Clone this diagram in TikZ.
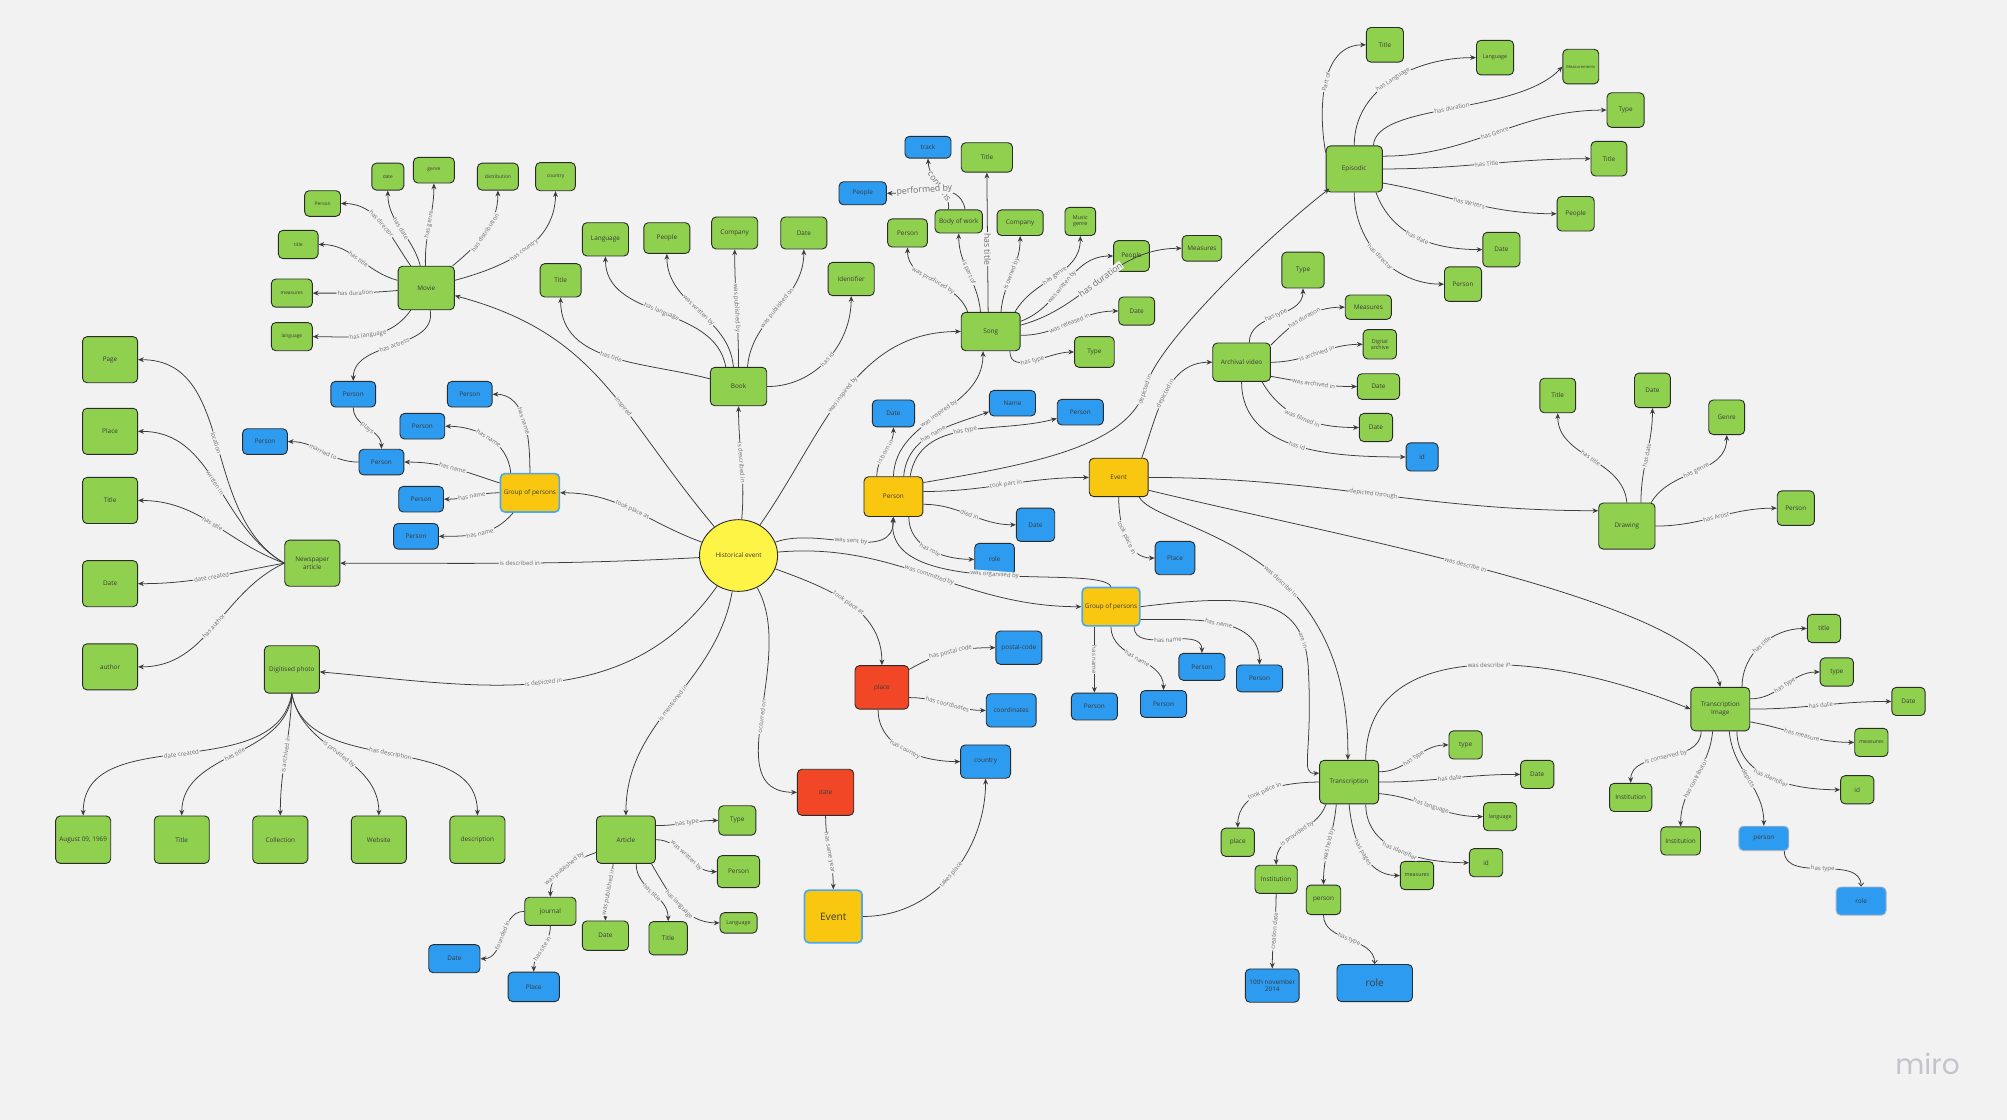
\documentclass[tikz,border=0pt]{standalone}
\usepackage{fontspec}
\setmainfont{Open Sans}
\newfontfamily\logofont{Poppins}
\usetikzlibrary{arrows.meta,shapes.geometric}
\definecolor{bg}{HTML}{F2F2F2}
\definecolor{mgreen}{HTML}{8FD14F}
\definecolor{mblue}{HTML}{2D9BF0}
\definecolor{myellow}{HTML}{FAC710}
\definecolor{mred}{HTML}{F24726}
\definecolor{hecol}{HTML}{FEF445}
\definecolor{bord}{HTML}{2B2B2B}
\definecolor{edgec}{HTML}{3C3C3C}
\definecolor{lblc}{HTML}{6E6E6E}
\definecolor{txtc}{HTML}{3A3A3A}
\definecolor{lightbd}{HTML}{4FA8E8}
\definecolor{paleb}{HTML}{A9B4C8}
\definecolor{logoc}{HTML}{C3C3CC}
\newcommand\fsN{\fontsize{5}{6}\selectfont}
\newcommand\fsS{\fontsize{4.2}{5}\selectfont}
\newcommand\fsT{\fontsize{3.8}{4.5}\selectfont}
\newcommand\fsX{\fontsize{3.2}{4}\selectfont}
\newcommand\fsL{\fontsize{4.7}{5.5}\selectfont}
\newcommand\fsB{\fontsize{6.8}{8}\selectfont}
\newcommand\fsE{\fontsize{8}{9}\selectfont}
\newcommand\fsR{\fontsize{7.8}{9}\selectfont}
\newcommand\mkN[7]{\node[#1,minimum width=#5pt,minimum height=#6pt] (#2) at (#3,-#4) {#7};}
\newcommand\mkE[5]{\draw[ed] (#1) to[out=#3,in=#4] node[lbl]{#5} (#2);}
\begin{document}
\begin{tikzpicture}[x=1pt,y=1pt,
 base/.style={draw=bord,line width=0.7pt,rounded corners=3.5pt,inner sep=0.5pt,align=center,text=txtc,font=\fsN},
 gbox/.style={base,fill=mgreen},
 bbox/.style={base,fill=mblue},
 ybox/.style={base,fill=myellow},
 rbox/.style={base,fill=mred},
 gpbox/.style={base,fill=myellow,draw=lightbd,line width=1.3pt},
 palebox/.style={base,fill=mblue,draw=paleb},
 ed/.style={draw=edgec,line width=0.6pt,-{Stealth[length=4.5pt,width=3.8pt]}},
 edthin/.style={draw=edgec,line width=0.6pt,-{Straight Barb[length=2.5pt,width=4pt]}},
 lblbase/.style={font=\fsL,text=lblc,fill=bg,inner sep=0.6pt},
 lbl/.style={lblbase,sloped},
 biglbl/.style={lbl,font=\fsB},
]
\fill[bg] (0,0) rectangle (1568,-875);
\useasboundingbox (0,0) rectangle (1568,-875);

% ---------- nodes ----------
\node[ellipse,draw=bord,line width=0.7pt,fill=hecol,minimum width=61pt,minimum height=56pt,inner sep=0pt,text=txtc,font=\fsN] (he) at (577,-434) {Historical event};

% Movie cluster
\mkN{gbox}{movie}{333}{225}{44}{34}{Movie}
\mkN{gbox,font=\fsT}{mdate}{303}{138}{25}{21}{date}
\mkN{gbox,font=\fsT}{mgenre}{339}{133}{32}{20}{genre}
\mkN{gbox,font=\fsT}{mdist}{389}{138}{32}{21}{distribution}
\mkN{gbox,font=\fsT}{mcountry}{434}{138}{31}{22}{country}
\mkN{gbox,font=\fsT}{mdir}{252}{159}{28}{20}{Person}
\mkN{gbox,font=\fsT}{mtitle}{233}{191}{31}{22}{title}
\mkN{gbox,font=\fsT}{mmeas}{228}{229}{32}{22}{measures}
\mkN{gbox,font=\fsT}{mlang}{228}{263}{32}{22}{language}
\mkN{bbox}{pact}{276}{308}{35}{20}{Person}
\mkN{bbox}{gp1}{367}{308}{35}{20}{Person}
\mkN{bbox}{gp2}{330}{333}{35}{20}{Person}
\mkN{bbox}{pmar}{207}{345}{35}{20}{Person}
\mkN{bbox}{gp3}{298}{361}{35}{20}{Person}
\mkN{bbox}{gp4}{329}{390}{35}{20}{Person}
\mkN{bbox}{gp5}{325}{419}{35}{20}{Person}
\mkN{gpbox}{gpl}{414}{385}{46}{30}{Group of persons}

% Newspaper
\mkN{gbox}{np}{244}{440}{43}{36}{Newspaper\\article}
\mkN{gbox}{npage}{86}{281}{43}{36}{Page}
\mkN{gbox}{nplace}{86}{337}{43}{36}{Place}
\mkN{gbox}{ntitle}{86}{391}{43}{36}{Title}
\mkN{gbox}{ndate}{86}{456}{43}{36}{Date}
\mkN{gbox}{nauthor}{86}{521}{43}{36}{author}

% Photo
\mkN{gbox}{ph}{228}{523}{43}{37}{Digitised photo}
\mkN{gbox}{paug}{65}{656}{43}{37}{August 09, 1969}
\mkN{gbox}{ptitle}{142}{656}{43}{37}{Title}
\mkN{gbox}{pcoll}{219}{656}{43}{37}{Collection}
\mkN{gbox}{pweb}{296}{656}{43}{37}{Website}
\mkN{gbox}{pdesc}{373}{656}{43}{37}{description}

% Book
\mkN{gbox}{bk}{577}{302}{44}{30}{Book}
\mkN{gbox}{btitle}{438}{219}{32}{26}{Title}
\mkN{gbox}{blang}{473}{187}{36}{26}{Language}
\mkN{gbox}{bpeople}{521}{186}{36}{24}{People}
\mkN{gbox}{bcomp}{574}{182}{36}{25}{Company}
\mkN{gbox}{bdate}{628}{182}{36}{25}{Date}
\mkN{gbox}{bid}{665}{218}{36}{26}{Identifier}

% Song
\mkN{gbox}{sg}{774}{259}{46}{30}{Song}
\mkN{bbox}{strack}{725}{115}{36}{17}{track}
\mkN{gbox}{stitle}{771}{123}{40}{23}{Title}
\mkN{bbox}{speople}{674}{151}{37}{18}{People}
\mkN{gbox}{sbow}{749}{173}{37}{18}{Body of work}
\mkN{gbox}{sperson}{709}{182}{31}{22}{Person}
\mkN{gbox}{scomp}{797}{174}{36}{20}{Company}
\mkN{gbox,font=\fsS}{sgenre}{844}{173}{24}{22}{Music\\genre}
\mkN{gbox}{swriter}{884}{200}{28}{24}{People}
\mkN{gbox}{smeas}{939}{194}{31}{20}{Measures}
\mkN{gbox}{sdate}{888}{243}{28}{22}{Date}
\mkN{gbox}{stype}{855}{275}{31}{24}{Type}

% Person
\mkN{ybox}{pe}{698}{388}{46}{31}{Person}
\mkN{bbox}{pborn}{698}{323}{33}{21}{Date}
\mkN{bbox}{pname}{791}{315}{36}{20}{Name}
\mkN{bbox}{ptype}{844}{322}{36}{20}{Person}
\mkN{bbox}{pdied}{809}{410}{30}{26}{Date}
\mkN{bbox}{prole}{777}{437}{31}{25}{role}

% Event
\mkN{ybox}{ev}{874}{373}{46}{30}{Event}
\mkN{bbox}{evplace}{918}{436}{31}{26}{Place}

% Archival video
\mkN{gbox}{av}{970}{283}{45}{30}{Archival video}
\mkN{gbox}{avtype}{1018}{211}{33}{28}{Type}
\mkN{gbox}{avmeas}{1069}{240}{36}{19}{Measures}
\mkN{gbox,font=\fsS}{avarch}{1078}{269}{26}{23}{Digital\\archive}
\mkN{gbox}{avdate1}{1077}{302}{33}{20}{Date}
\mkN{gbox}{avdate2}{1075}{334}{26}{22}{Date}
\mkN{bbox}{avid}{1111}{357}{25}{22}{id}

% Episodic
\mkN{gbox}{ep}{1058}{132}{44}{36}{Episodic}
\mkN{gbox}{eptitle}{1082}{35}{29}{27}{Title}
\mkN{gbox,font=\fsS}{eplang}{1168}{45}{29}{27}{Language}
\mkN{gbox,font=\fsX}{epmeas}{1235}{52}{28}{27}{Measurements}
\mkN{gbox}{eptype}{1270}{86}{29}{27}{Type}
\mkN{gbox}{eptitle2}{1257}{124}{28}{27}{Title}
\mkN{gbox}{eppeople}{1231}{167}{29}{27}{People}
\mkN{gbox}{epdate}{1173}{195}{29}{27}{Date}
\mkN{gbox}{epperson}{1143}{222}{29}{27}{Person}

% Drawing
\mkN{gbox}{dr}{1271}{411}{44}{36}{Drawing}
\mkN{gbox}{drtitle}{1217}{309}{28}{27}{Title}
\mkN{gbox}{drdate}{1291}{305}{28}{27}{Date}
\mkN{gbox}{drgenre}{1349}{326}{28}{27}{Genre}
\mkN{gbox}{drperson}{1403}{397}{29}{27}{Person}

% Group of persons (lower)
\mkN{gpbox}{gpb}{868}{474}{45}{30}{Group of persons}
\mkN{bbox}{gb1}{855}{552}{36}{21}{Person}
\mkN{bbox}{gb2}{909}{550}{36}{21}{Person}
\mkN{bbox}{gb3}{939}{521}{36}{21}{Person}
\mkN{bbox}{gb4}{984}{530}{36}{21}{Person}

% place / date
\mkN{rbox}{pl}{689}{537}{42}{34}{place}
\mkN{bbox}{plpost}{796}{506}{36}{26}{postal-code}
\mkN{bbox}{plcoord}{790}{555}{39}{26}{coordinates}
\mkN{bbox}{plcountry}{770}{595}{39}{26}{country}
\mkN{rbox}{dt}{645}{619}{44}{36}{date}
\mkN{gpbox,font=\fsE}{evb}{651}{716}{45}{41}{Event}

% Transcription
\mkN{gbox}{tr}{1054}{611}{46}{34}{Transcription}
\mkN{gbox}{trtype}{1145}{582}{26}{22}{type}
\mkN{gbox}{trdate}{1201}{605}{26}{22}{Date}
\mkN{gbox,font=\fsS}{trlang}{1172}{638}{26}{22}{language}
\mkN{gbox}{trid}{1161}{674}{26}{22}{id}
\mkN{gbox,font=\fsS}{trmeas}{1107}{684}{26}{22}{measures}
\mkN{gbox}{trperson}{1034}{703}{27}{23}{person}
\mkN{gbox}{trinst}{997}{687}{33}{22}{Institution}
\mkN{gbox}{trplace}{967}{658}{26}{22}{place}
\mkN{bbox}{trcdate}{994}{770}{42}{26}{10th november\\2014}
\mkN{bbox,font=\fsR}{trrole}{1074}{768}{59}{29}{role}

% Transcription image
\mkN{gbox}{ti}{1344}{554}{46}{34}{Transcription\\Image}
\mkN{gbox}{tititle}{1425}{491}{26}{22}{title}
\mkN{gbox}{titype}{1435}{525}{26}{22}{type}
\mkN{gbox}{tidate}{1491}{548}{26}{22}{Date}
\mkN{gbox,font=\fsS}{timeas}{1462}{580}{26}{22}{measures}
\mkN{gbox}{tiid}{1451}{617}{26}{22}{id}
\mkN{gbox}{tiinst1}{1274}{623}{33}{22}{Institution}
\mkN{gbox}{tiinst2}{1313}{657}{31}{22}{Institution}
\mkN{palebox}{tiperson}{1378}{655}{39}{19}{person}
\mkN{palebox}{tirole}{1454}{704}{39}{22}{role}

% Article
\mkN{gbox}{ar}{489}{656}{46}{37}{Article}
\mkN{gbox}{artype}{576}{641}{29}{23}{Type}
\mkN{gbox}{arperson}{577}{681}{33}{25}{Person}
\mkN{gbox,font=\fsS}{arlang}{577}{721}{29}{16}{Language}
\mkN{gbox}{artitle}{522}{733}{30}{26}{Title}
\mkN{gbox}{ardate}{473}{731}{36}{23}{Date}
\mkN{gbox}{arjournal}{430}{712}{40}{22}{journal}
\mkN{bbox}{arjdate}{355}{749}{40}{22}{Date}
\mkN{bbox}{arjplace}{417}{771}{40}{23}{Place}

\node[font=\logofont\fontsize{22}{24}\selectfont,text=logoc] (logo) at (1506,-831) {miro};

% ---------- edges ----------
% Movie
\mkE{movie}{mdir}{125}{0}{has director}
\mkE{movie}{mdate}{105}{270}{has date}
\mkE{movie}{mgenre}{92}{270}{has genre}
\mkE{movie}{mdist}{40}{270}{has distribution}
\mkE{movie}{mcountry}{15}{270}{has country}
\mkE{movie}{mtitle}{165}{0}{has title}
\mkE{movie}{mmeas}{185}{0}{has duration}
\mkE{movie}{mlang}{235}{0}{has language}
\mkE{movie}{pact}{280}{90}{has actress}
% group left
\mkE{gpl}{gp1}{90}{0}{has name}
\draw[ed] ([xshift=-15pt]gpl.north) to[out=95,in=0] node[lbl]{has name} (gp2);
\mkE{gpl}{gp3}{162}{0}{has name}
\mkE{gpl}{gp4}{180}{0}{has name}
\mkE{gpl}{gp5}{230}{0}{has name}
\mkE{pact}{gp3}{270}{90}{plays}
\mkE{gp3}{pmar}{180}{0}{married to}
% historical event
\mkE{he}{gpl}{160}{0}{took place at}
\draw[ed] (he) to[out=130,in=-15,looseness=1.1] node[lbl,pos=0.4]{inspired} (movie);
\mkE{he}{np}{183}{0}{is described in}
\mkE{he}{ph}{235}{-5}{is depicted in}
\mkE{he}{bk}{85}{270}{is described in}
\mkE{he}{sg}{55}{180}{was inspired by}
\mkE{he}{pe}{20}{270}{was sent by}
\mkE{he}{gpb}{5}{180}{was committed by}
\mkE{he}{pl}{-20}{90}{took place at}
\mkE{he}{dt}{-60}{180}{occurred on}
\mkE{he}{ar}{260}{90}{is mentioned in}
% newspaper
\mkE{np.west}{npage}{150}{0}{location}
\mkE{np.west}{nplace}{150}{0}{written in}
\mkE{np.west}{ntitle}{160}{0}{has title}
\mkE{np.west}{ndate}{190}{0}{date created}
\mkE{np.west}{nauthor}{205}{0}{has author}
% photo
\mkE{ph.south}{paug}{260}{90}{date created}
\mkE{ph.south}{ptitle}{265}{90}{has title}
\mkE{ph.south}{pcoll}{268}{90}{is archived in}
\mkE{ph.south}{pweb}{280}{90}{is provided by}
\mkE{ph.south}{pdesc}{280}{90}{has description}
% book
\mkE{bk}{btitle}{165}{270}{has title}
\draw[ed] ([xshift=-10pt]bk.north) to[out=100,in=270] node[lbl]{has language} (blang);
\draw[ed] ([xshift=-4pt]bk.north) to[out=95,in=270] node[lbl]{was written by} (bpeople);
\draw[ed] (bk.north) to[out=90,in=270] node[lbl]{was published by} (bcomp);
\draw[ed] ([xshift=7pt]bk.north) to[out=85,in=270] node[lbl]{was published on} (bdate);
\draw[ed] (bk.east) to[out=0,in=270] node[lbl]{has id} (bid);
% song
\draw[ed] ([xshift=-18pt]sg.north) to[out=110,in=270] node[lbl]{was produced by} (sperson);
\draw[ed] ([xshift=-8pt]sg.north) to[out=95,in=270] node[lbl]{is part of} (sbow);
\draw[ed] ([xshift=-2pt]sg.north) -- node[lblbase,font=\fsB,rotate=-90,pos=0.45]{has title} (stitle.south);
\draw[ed] ([xshift=8pt]sg.north) to[out=85,in=270] node[lbl]{is owned by} (scomp);
\draw[ed] ([xshift=19pt]sg.north) to[out=60,in=270] node[lbl]{has genre} (sgenre);
\draw[ed] ([yshift=8pt]sg.east) to[out=20,in=180] node[lbl,pos=0.45]{was written by} (swriter);
\draw[ed] ([yshift=5pt]sg.east) to[out=15,in=180] node[biglbl,pos=0.5]{has duration} (smeas);
\draw[ed] ([yshift=-3pt]sg.east) to[out=0,in=180] node[lbl]{was released in} (sdate);
\draw[ed] ([xshift=15pt]sg.south) to[out=270,in=180] node[lbl]{has type} (stype);
\draw[ed] ([xshift=-8pt]sbow.north) .. controls (743,-150) and (726,-142) .. node[biglbl,pos=0.5]{contains} (strack.south);
\draw[ed] ([xshift=5pt]sbow.north) to[out=100,in=0] node[biglbl,pos=0.62]{performed by} (speople);
% person
\draw[ed] ([xshift=-13pt]pe.north) to[out=90,in=270] node[lbl]{is born in} (pborn);
\draw[ed] (pe.north) to[out=88,in=270] node[lbl]{was inspired by} ([xshift=-6pt]sg.south);
\draw[ed] ([xshift=8pt]pe.north) to[out=85,in=200] node[lbl]{has name} (pname);
\draw[ed] ([xshift=13pt]pe.north) to[out=80,in=195] node[lbl]{has type} (ptype);
\draw[ed] ([yshift=11pt]pe.east) .. controls (810,-362) and (885,-348) .. node[lbl,pos=0.97]{depicted in} (896,-300) .. controls (905,-268) and (990,-185) .. ([xshift=3pt,yshift=3pt]ep.south west);
\draw[ed] ([yshift=4pt]pe.east) to[out=0,in=180] node[lbl]{took part in} (ev);
\draw[ed] ([yshift=-6pt]pe.east) to[out=0,in=180] node[lbl]{died in} (pdied);
\draw[ed] ([xshift=12pt]pe.south) to[out=270,in=180] node[lbl]{has role} (prole);
\draw[ed] (gpb.north) .. controls (860,-440) and (690,-470) .. node[lbl,pos=0.5]{was organised by} (pe.south);
% event
\draw[ed] ([xshift=18pt]ev.north) to[out=70,in=180] node[lbl]{depicted in} (av);
\draw[ed] (ev.south) to[out=270,in=180] node[lbl]{took place in} (evplace);
\draw[ed] (ev.east) to[out=0,in=180] node[lbl]{depicted through} ([yshift=12pt]dr.west);
\draw[ed] ([yshift=-10pt]ev.east) .. controls (1050,-420) and (1330,-470) .. node[lbl,pos=0.45]{was describe in} (ti.north);
\draw[ed] ([xshift=16pt]ev.south) .. controls (905,-415) and (1055,-420) .. node[lbl,pos=0.6]{was describe in} ([xshift=-1pt]tr.north);
\draw[ed] (gpb.east) .. controls (985,-462) and (1018,-470) .. node[lbl,pos=0.85]{are in} (1022,-520) .. controls (1026,-590) and (1015,-605) .. ([yshift=7pt]tr.west);
% archival video
\draw[ed] ([xshift=6pt]av.north) to[out=90,in=270] node[lbl]{has type} (avtype);
\draw[ed] ([yshift=-2pt]av.north east) to[out=45,in=180] node[lbl]{has duration} (avmeas);
\draw[ed] (av.east) to[out=0,in=180] node[lbl]{is archived in} (avarch);
\draw[ed] ([yshift=-11pt]av.east) to[out=-10,in=180] node[lbl]{was archived in} (avdate1);
\draw[ed] ([xshift=16pt]av.south) to[out=-60,in=180] node[lbl]{was filmed in} (avdate2);
\draw[ed] (av.south) to[out=270,in=180] node[lbl]{has id} (avid);
% episodic
\draw[ed] (ep.150) to[out=100,in=180] node[lbl]{Part of} (eptitle);
\draw[ed] (ep.north) to[out=90,in=180] node[lbl]{has Language} (eplang);
\draw[ed] ([xshift=15pt]ep.north) .. controls (1075,-80) and (1185,-90) .. node[lbl]{has duration} (epmeas.west);
\draw[ed] ([yshift=10pt]ep.east) to[out=0,in=180] node[lbl]{has Genre} (eptype);
\draw[ed] (ep.east) to[out=0,in=180] node[lbl]{has Title} (eptitle2);
\draw[ed] ([yshift=-11pt]ep.east) to[out=-10,in=180] node[lbl]{has Writers} (eppeople);
\draw[ed] ([xshift=17pt]ep.south) to[out=-70,in=180] node[lbl]{has date} (epdate);
\draw[ed] (ep.south) to[out=270,in=180] node[lbl]{has director} (epperson);
% drawing
\draw[ed] (dr.north) to[out=95,in=270] node[lbl]{has title} (drtitle);
\draw[ed] ([xshift=11pt]dr.north) to[out=90,in=270] node[lbl]{has date} (drdate);
\draw[ed] ([xshift=19pt]dr.north) to[out=60,in=270] node[lbl]{has genre} (drgenre);
\draw[ed] (dr.east) to[out=0,in=180] node[lbl]{has Artist} (drperson);
% transcription
\draw[ed] ([yshift=8pt]tr.east) to[out=0,in=180] node[lbl]{has type} (trtype);
\draw[ed] (tr.east) to[out=0,in=180] node[lbl]{has date} (trdate);
\draw[ed] ([yshift=-9pt]tr.east) to[out=-5,in=180] node[lbl]{has language} (trlang);
\draw[ed] ([xshift=13pt]tr.south) to[out=270,in=180] node[lbl]{has identifier} (trid);
\draw[ed] (tr.south) to[out=275,in=180] node[lbl]{has pages} (trmeas);
\draw[ed] ([xshift=-10pt]tr.south) to[out=265,in=90] node[lbl]{was held by} (trperson);
\draw[ed] ([xshift=-18pt]tr.south) to[out=250,in=90] node[lbl]{is provided by} (trinst);
\draw[ed] (tr.west) to[out=180,in=90] node[lbl]{took palce in} (trplace);
\draw[ed] (trinst.south) to[out=270,in=90] node[lbl]{creation date} (trcdate);
\draw[edthin] (trperson.south) to[out=270,in=90] node[lbl]{has type} (trrole);
\draw[ed] ([xshift=13pt]tr.north) .. controls (1067,-500) and (1200,-505) .. node[lbl,pos=0.55]{was describe in} (ti.west);
% transcription image
\draw[ed] ([xshift=17pt]ti.north) to[out=90,in=180] node[lbl]{has title} (tititle);
\draw[ed] ([yshift=8pt]ti.east) to[out=0,in=180] node[lbl]{has type} (titype);
\draw[ed] (ti.east) to[out=0,in=180] node[lbl]{has date} (tidate);
\draw[ed] ([yshift=-10pt]ti.east) to[out=-10,in=180] node[lbl]{has measure} (timeas);
\draw[ed] ([xshift=13pt]ti.south) to[out=270,in=180] node[lbl]{has identifier} (tiid);
\draw[ed] ([xshift=-15pt]ti.south) to[out=270,in=90] node[lbl]{is conserved by} (tiinst1);
\draw[ed] ([xshift=-6pt]ti.south) to[out=265,in=90] node[lbl]{has contributor} (tiinst2);
\draw[ed] ([xshift=7pt]ti.south) to[out=275,in=90] node[lbl]{depicts} (tiperson);
\draw[edthin] ([xshift=16pt]tiperson.south) to[out=270,in=90] node[lbl]{has type} (tirole);
% group lower
\draw[ed] ([xshift=-13pt]gpb.south) -- node[lbl]{has name} (gb1);
\draw[ed] (gpb.south) to[out=270,in=90] node[lbl]{has name} (gb2);
\draw[ed] ([xshift=18pt]gpb.south) to[out=270,in=90] node[lbl]{has name} (gb3);
\draw[ed] ([yshift=-10pt]gpb.east) to[out=0,in=90] node[lbl]{has name} (gb4);
% place / date
\draw[ed] ([yshift=14pt]pl.east) to[out=30,in=180] node[lbl]{has postal code} (plpost);
\draw[ed] ([yshift=-8pt]pl.east) to[out=0,in=180] node[lbl]{has coordinates} (plcoord);
\draw[ed] ([xshift=-3pt]pl.south) to[out=270,in=180] node[lbl]{has country} (plcountry);
\draw[ed] (dt.south) to[out=270,in=90] node[lbl]{has same year} (evb);
\draw[ed] (evb.east) to[out=0,in=270] node[lbl]{takes place} (plcountry);
% article
\draw[ed] ([yshift=11pt]ar.east) to[out=0,in=180] node[lbl]{has type} (artype);
\draw[ed] (ar.east) to[out=0,in=180] node[lbl]{was written by} (arperson);
\draw[ed] ([xshift=20pt]ar.south) to[out=-60,in=180] node[lbl]{has language} (arlang);
\draw[ed] ([xshift=8pt]ar.south) to[out=270,in=90] node[lbl]{has title} (artitle);
\draw[ed] ([xshift=-10pt]ar.south) to[out=265,in=90] node[lbl]{was published in} (ardate);
\draw[ed] ([yshift=-10pt]ar.west) to[out=200,in=90] node[lbl]{was published by} (arjournal);
\draw[ed] (arjournal.west) to[out=180,in=0] node[lbl]{founded in} (arjdate);
\draw[ed] (arjournal.south) to[out=270,in=90] node[lbl]{has site in} (arjplace);
\end{tikzpicture}
\end{document}
